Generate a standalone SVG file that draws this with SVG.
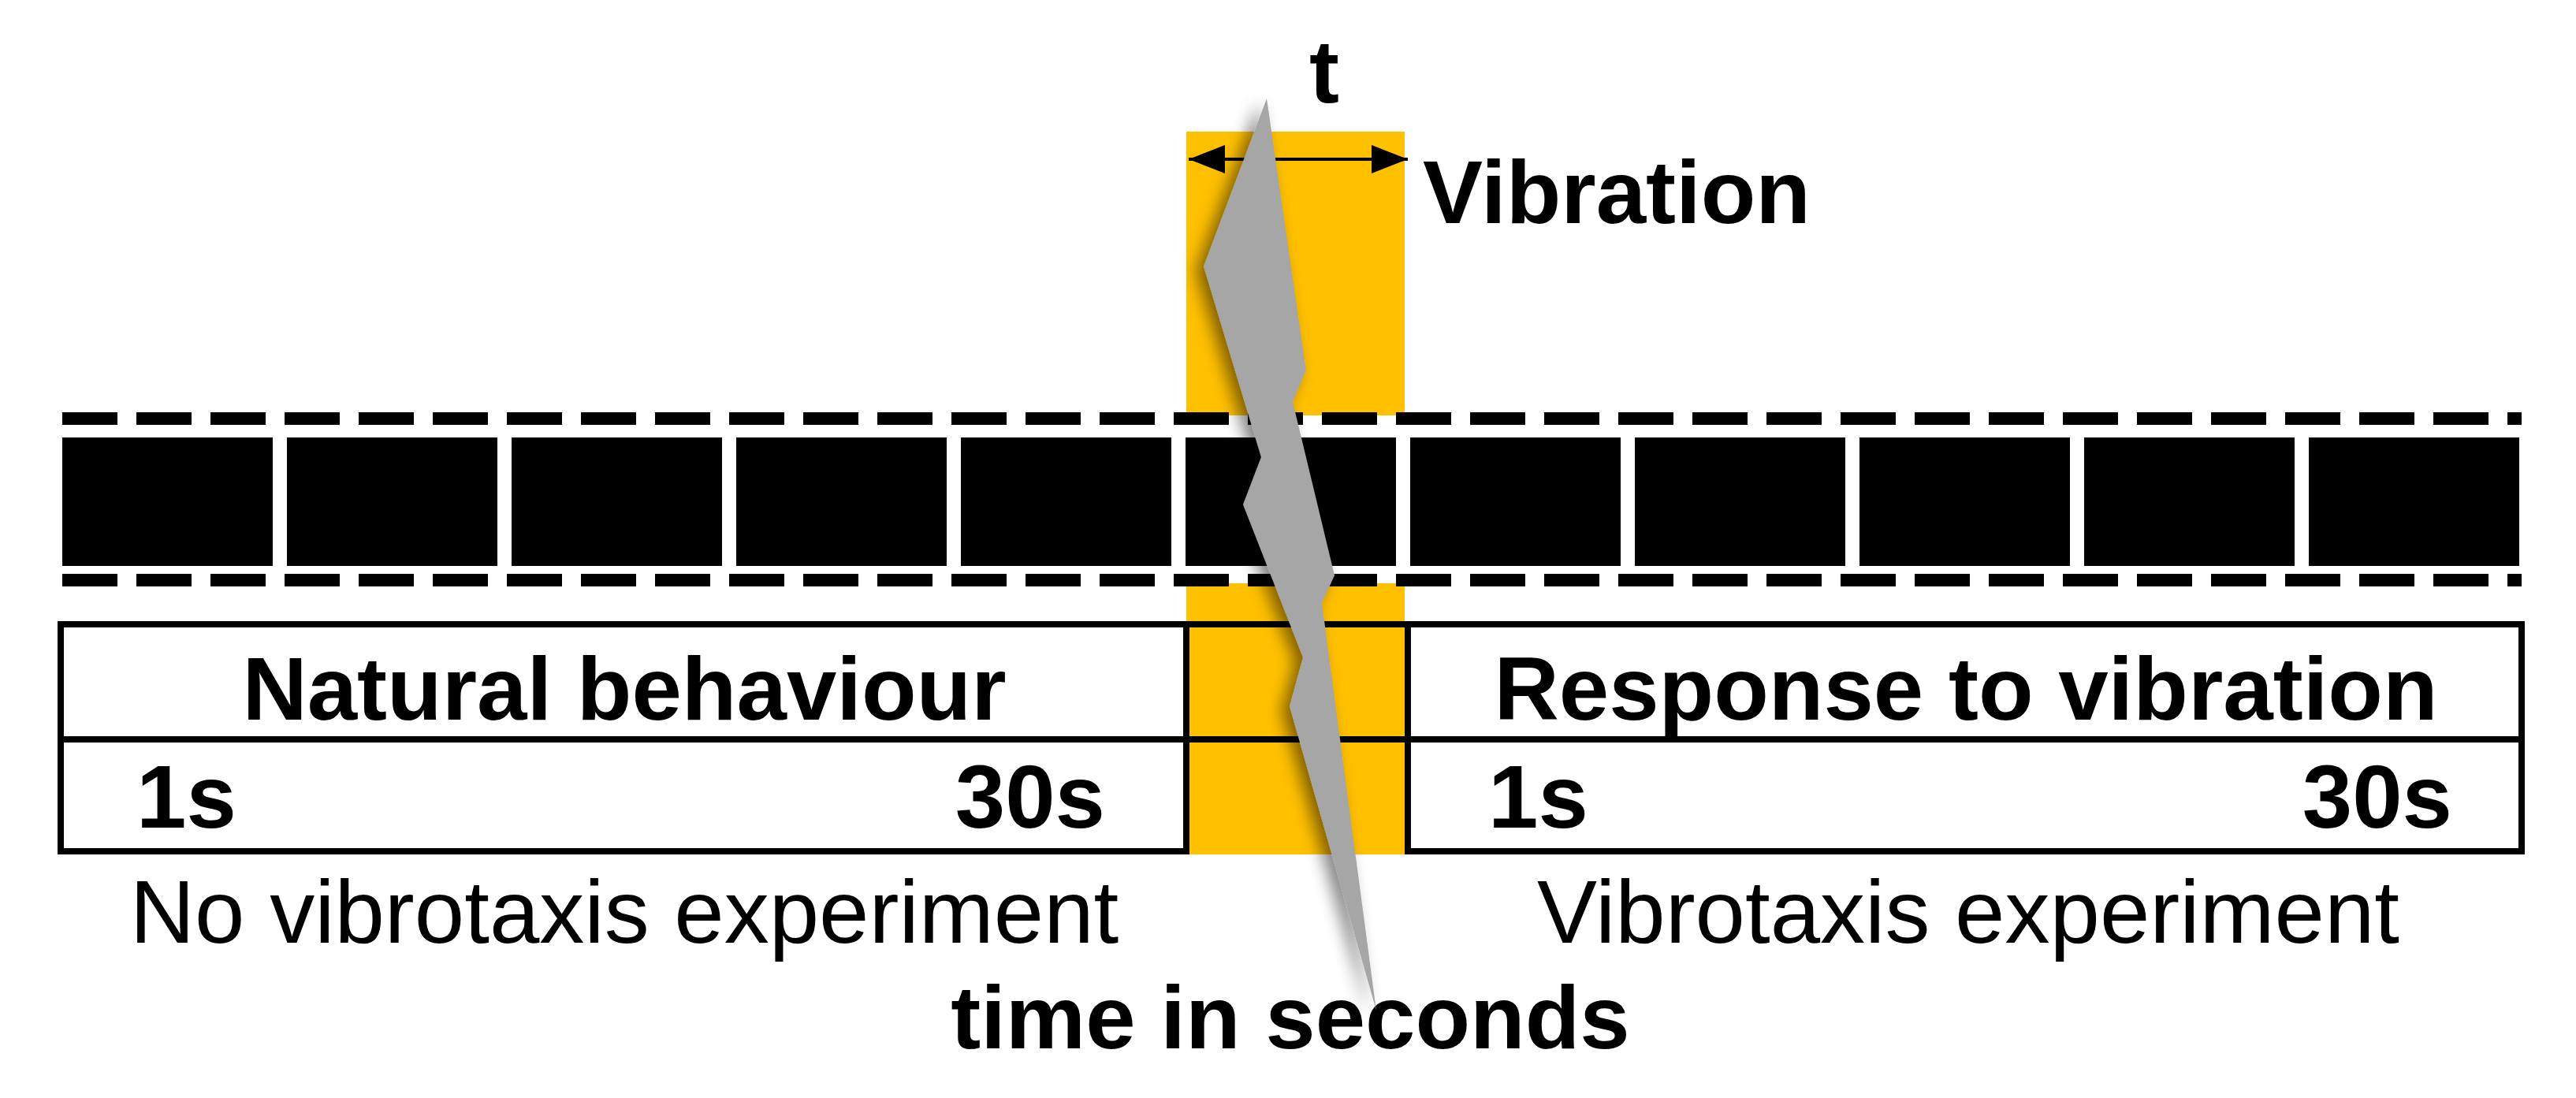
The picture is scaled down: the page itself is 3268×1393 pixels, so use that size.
<svg xmlns="http://www.w3.org/2000/svg" width="3268" height="1393" viewBox="0 0 3268 1393">
<style>
.b{font-family:"Liberation Sans",Arial,sans-serif;font-weight:bold;font-size:114px;fill:#000}
.r{font-family:"Liberation Sans",Arial,sans-serif;font-size:114px;fill:#000}
.ln{stroke:#000;stroke-width:8;fill:none}
.dash{stroke:#000;stroke-width:16;stroke-dasharray:70 24;fill:none}
</style>
<defs>
<marker id="ah" viewBox="0 0 10 10" refX="10" refY="5" markerWidth="46" markerHeight="36" orient="auto-start-reverse" markerUnits="userSpaceOnUse" preserveAspectRatio="none"><path d="M0,0 L10,5 L0,10z" fill="#000"/></marker>
<filter id="sh" x="-50%" y="-20%" width="200%" height="140%"><feGaussianBlur in="SourceAlpha" stdDeviation="10"/><feOffset dx="-10" dy="6"/><feComponentTransfer><feFuncA type="linear" slope="0.5"/></feComponentTransfer><feMerge><feMergeNode/><feMergeNode in="SourceGraphic"/></feMerge></filter>
</defs>
<rect width="3268" height="1393" fill="#fff"/>
<g id="vibration">
<rect x="1505" y="167" width="277" height="360" fill="#FFC000"/>
<rect x="1505" y="740" width="277" height="344" fill="#FFC000"/>
</g>
<g id="film">
<line class="dash" x1="79" y1="531" x2="3199" y2="531"/>
<line class="dash" x1="79" y1="736" x2="3199" y2="736"/>
<g fill="#000">
<rect x="79" y="555" width="267" height="163"/>
<rect x="364" y="555" width="267" height="163"/>
<rect x="649" y="555" width="267" height="163"/>
<rect x="934" y="555" width="267" height="163"/>
<rect x="1219" y="555" width="267" height="163"/>
<rect x="1504" y="555" width="267" height="163"/>
<rect x="1789" y="555" width="267" height="163"/>
<rect x="2074" y="555" width="267" height="163"/>
<rect x="2359" y="555" width="267" height="163"/>
<rect x="2644" y="555" width="267" height="163"/>
<rect x="2929" y="555" width="267" height="163"/>
</g>
</g>
<g id="table">
<line class="ln" x1="77" y1="792" x2="3199" y2="792"/>
<line class="ln" x1="77" y1="938" x2="3199" y2="938"/>
<path class="ln" d="M77,788 V1080 H1505 V792"/>
<path class="ln" d="M1786,792 V1080 H3199 V788"/>
</g>
<g id="labels">
<text class="b" x="792" y="913" text-anchor="middle">Natural behaviour</text>
<text class="b" x="173" y="1050">1s</text>
<text class="b" x="1402" y="1050" text-anchor="end">30s</text>
<text class="b" x="2494" y="913" text-anchor="middle">Response to vibration</text>
<text class="b" x="1888" y="1050">1s</text>
<text class="b" x="3111" y="1050" text-anchor="end">30s</text>
<text class="r" x="792" y="1196" text-anchor="middle">No vibrotaxis experiment</text>
<text class="r" x="2497" y="1196" text-anchor="middle">Vibrotaxis experiment</text>
<text class="b" x="1637" y="1330" text-anchor="middle">time in seconds</text>
<text class="b" x="1805" y="283">Vibration</text>
<text class="b" x="1680" y="130" text-anchor="middle">t</text>
</g>
<g id="connectors">
<line x1="1508" y1="202" x2="1786" y2="202" stroke="#000" stroke-width="4" marker-start="url(#ah)" marker-end="url(#ah)"/>
</g>
<g id="lightning">
<polygon filter="url(#sh)" fill="#A6A6A6" points="1607,125 1657,470 1640,510 1693,730 1677,765 1746,1282 1636,896 1653,834 1577,640 1600,580 1527,338"/>
</g>
</svg>
